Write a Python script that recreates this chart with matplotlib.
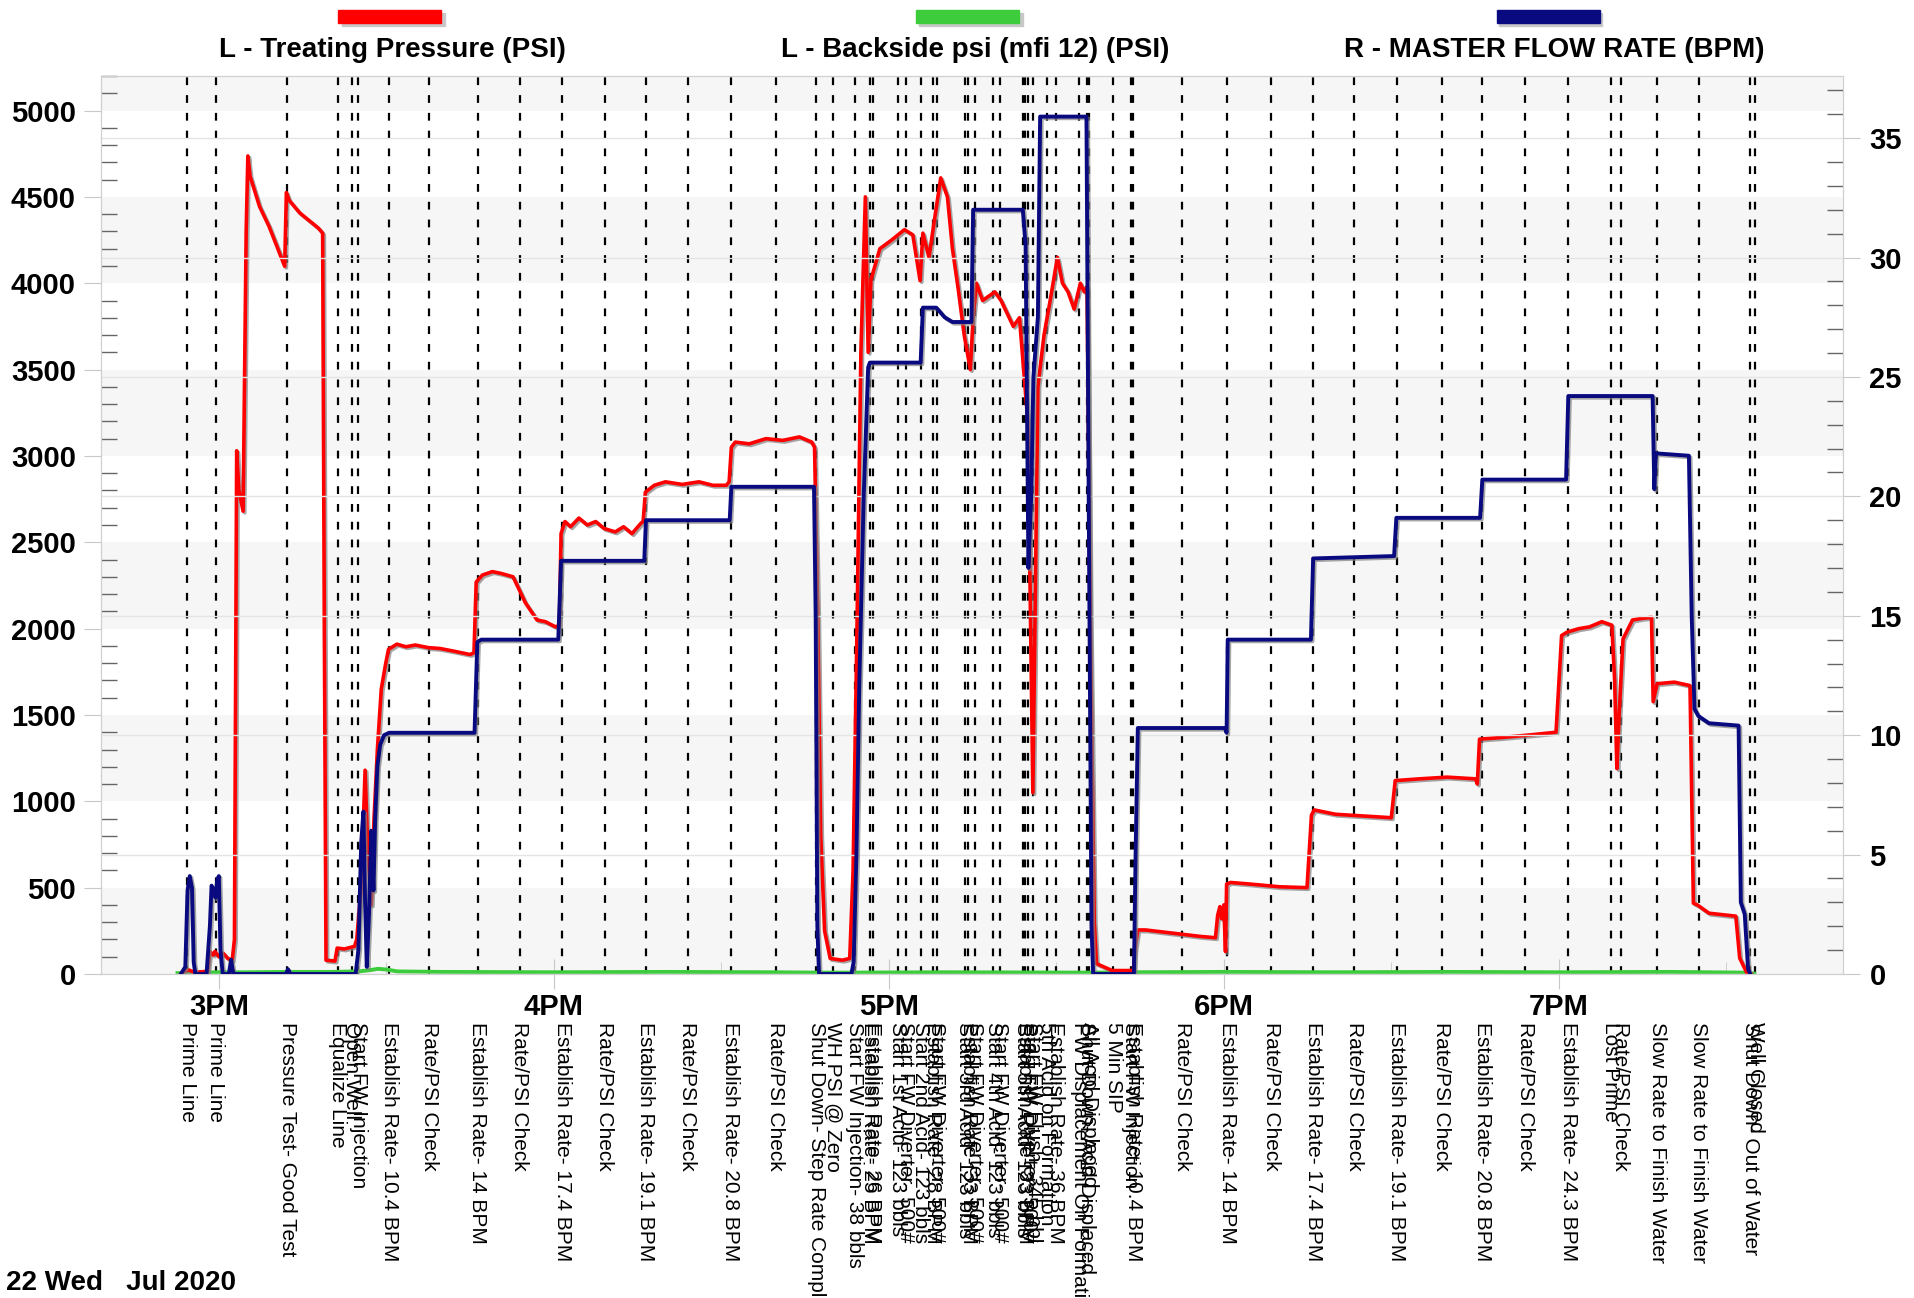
import matplotlib
matplotlib.use("Agg")
import matplotlib.pyplot as plt
import matplotlib.patheffects as pe
import matplotlib.transforms as mtransforms
from matplotlib.patches import Rectangle
from matplotlib.ticker import MultipleLocator

plt.rcParams['font.family'] = ['Liberation Sans', 'DejaVu Sans']

# time axis is minutes after 3PM
hour_ticks = [0, 60, 120, 180, 240]
hour_labels = ['3PM', '4PM', '5PM', '6PM', '7PM']

event_times = [-5.68, -0.54, 12.23, 21.26, 23.77, 24.95, 30.50, 37.67, 46.34, 53.91,
               61.53, 69.14, 76.48, 83.95, 91.71, 99.77, 107.02, 110.03, 113.92, 116.61,
               117.09, 121.57, 123.05, 125.74, 127.84, 128.55, 133.62, 134.21, 135.41, 138.69,
               139.89, 143.96, 144.37, 144.96, 145.85, 148.25, 149.92, 154.09, 155.42, 155.88,
               160.18, 163.35, 163.76, 172.58, 180.64, 188.54, 195.99, 203.37, 210.93, 219.01,
               226.30, 234.02, 241.65, 249.30, 251.06, 257.65, 265.10, 274.32, 275.20]
event_labels = [
    "Prime Line", "Prime Line", "Pressure Test- Good Test", "Equalize Line", "Open Well",
    "Start FW Injection", "Establish Rate- 10.4 BPM", "Rate/PSI Check", "Establish Rate- 14 BPM",
    "Rate/PSI Check", "Establish Rate- 17.4 BPM", "Rate/PSI Check", "Establish Rate- 19.1 BPM",
    "Rate/PSI Check", "Establish Rate- 20.8 BPM", "Rate/PSI Check", "Shut Down- Step Rate Complete",
    "WH PSI @ Zero", "Start FW Injection- 38 bbls", "Establish Rate- 25 BPM", "Establish Rate- 26 BPM",
    "Start 1st Acid- 123 bbls", "Start FW Diverter- 500#", "Start 2nd Acid- 123 bbls",
    "Establish Rate- 28 BPM", "Start FW Diverter- 500#", "Start 3rd Acid- 123 bbls",
    "Establish Rate- 33 BPM", "Start FW Diverter- 500#", "Start 4th Acid- 123 bbls",
    "Start FW Diverter- 500#", "Start 5th Acid- 123 bbls", "Establish Rate- 33 BPM",
    "Start FW Diverter- 500#", "Start FW Flush- 345 bbl", "5th Acid on Formation",
    "Establish Rate- 36 BPM", "FW Displacement On Formation", "Shut Down- Acid Displaced",
    "All Acid Displaced", "5 Min SIP", "Start FW Injection", "Establish Rate- 10.4 BPM",
    "Rate/PSI Check", "Establish Rate- 14 BPM", "Rate/PSI Check", "Establish Rate- 17.4 BPM",
    "Rate/PSI Check", "Establish Rate- 19.1 BPM", "Rate/PSI Check", "Establish Rate- 20.8 BPM",
    "Rate/PSI Check", "Establish Rate- 24.3 BPM", "Lost Prime", "Rate/PSI Check",
    "Slow Rate to Finish Water", "Slow Rate to Finish Water", "Shut Down- Out of Water",
    "Well Closed"]

# L - Treating Pressure (PSI)
tp_t = [-6.8, -5.5, -4.4, -2.0, -1.6, -1.0, -0.7, 0.0, 0.8, 1.6, 2.4, 2.8, 3.2, 3.6, 4.35,
        4.9, 5.2, 5.6, 7.3, 9.0, 11.8, 12.1, 12.6, 14.5, 17.8, 18.6, 18.9, 19.2, 20.8, 21.2,
        22.5, 24.3, 24.7, 25.5, 26.2, 26.7, 27.3, 27.8, 28.4, 29.1, 29.9, 30.4, 31.9, 33.5,
        35.2, 37.5, 39.6, 42.0, 45.0, 45.7, 46.1, 47.2, 49.0, 50.5, 52.7, 54.9, 57.0, 58.5,
        60.3, 61.0, 61.3, 62.0, 63.0, 64.5, 66.0, 67.5, 69.0, 71.0, 72.5, 74.0, 75.6, 76.0,
        76.4, 78.0, 80.0, 83.0, 86.0, 88.5, 90.9, 91.4, 91.8, 92.5, 95.0, 98.0, 101.0, 104.0,
        106.2, 106.7, 107.3, 107.8, 108.5, 109.5, 111.7, 113.0, 113.6, 114.3, 115.0, 115.8,
        116.3, 116.8, 118.4, 120.5, 122.8, 124.3, 125.6, 126.1, 127.2, 128.1, 129.3, 130.5,
        131.4, 132.5, 133.5, 134.6, 135.1, 135.7, 136.8, 139.0, 140.1, 142.3, 143.4, 144.9,
        145.8, 146.7, 147.8, 148.9, 150.2, 151.1, 152.1, 153.2, 154.3, 155.0, 155.5, 156.1,
        156.8, 157.2, 160.0, 163.8, 164.1, 164.6, 166.0, 170.0, 175.7, 178.5, 178.9, 179.3,
        179.6, 180.0, 180.3, 180.5, 181.2, 185.0, 190.0, 194.9, 195.7, 196.2, 200.0, 205.0,
        210.0, 210.7, 215.0, 220.0, 225.1, 225.4, 225.8, 230.0, 235.0, 239.5, 240.5, 241.5,
        243.6, 245.5, 247.7, 249.5, 250.0, 250.4, 250.8, 251.5, 253.2, 255.0, 256.6, 256.9,
        257.6, 260.7, 263.5, 264.1, 264.8, 266.9, 271.7, 272.4, 273.7, 274.5]
tp_psi = [0, 25, 10, 15, 130, 110, 130, 100, 120, 90, 80, 200, 3030, 2800, 2680,
          4300, 4737, 4620, 4444, 4329, 4098, 4525, 4480, 4407, 4320, 4290, 2000, 80, 75, 150,
          145, 160, 200, 500, 1180, 700, 400, 900, 1300, 1650, 1800, 1880, 1910, 1895,
          1905, 1890, 1885, 1870, 1850, 1860, 2270, 2310, 2330, 2320, 2300, 2150, 2050, 2040,
          2010, 2020, 2550, 2620, 2590, 2640, 2600, 2620, 2580, 2560, 2590, 2550, 2610, 2620,
          2790, 2830, 2850, 2835, 2850, 2830, 2830, 2850, 3050, 3080, 3070, 3100, 3090, 3110,
          3080, 3050, 2000, 800, 250, 90, 80, 90, 600, 2000, 3600, 4500,
          3600, 4020, 4200, 4250, 4310, 4280, 4015, 4290, 4150, 4350, 4610, 4500,
          4200, 3950, 3700, 3500, 3800, 4000, 3900, 3950, 3900, 3750, 3800, 3200,
          1050, 3400, 3700, 3900, 4150, 4000, 3950, 3850, 4000, 3950, 3980, 2000,
          300, 60, 20, 20, 150, 255, 255, 240, 218, 210, 340, 390,
          320, 400, 130, 520, 530, 520, 505, 500, 920, 950, 925, 915,
          905, 1120, 1130, 1140, 1130, 1100, 1360, 1370, 1385, 1400, 1960, 1980,
          2000, 2010, 2040, 2020, 1700, 1190, 1500, 1940, 2050, 2060, 2065, 1577,
          1681, 1690, 1670, 410, 400, 352, 335, 92, 5, 0]

# L - Backside psi (mfi 12) (PSI)
bs_t = [-7.4, -4, 0, 5, 12, 20, 25, 27, 28.5, 30, 32, 40, 60, 80, 100, 107, 113, 130,
        156, 164, 180, 200, 220, 240, 260, 273, 275]
bs_psi = [5, 8, 10, 10, 12, 12, 15, 22, 30, 26, 15, 12, 10, 12, 10, 8, 8, 10,
          8, 10, 12, 10, 12, 10, 12, 8, 3]

# R - MASTER FLOW RATE (BPM)
rate_t = [-6.8, -6.0, -5.6, -5.2, -4.8, -4.5, -4.2, -2.2, -1.6, -1.3, -0.9, -0.6, -0.3, 0.0,
          0.3, 0.7, 1.8, 2.2, 2.6, 12.0, 12.4, 12.8, 24.5, 25.0, 25.5, 25.9, 26.2, 26.5, 26.9,
          27.3, 27.7, 28.0, 28.4, 28.9, 29.6, 30.5, 38.0, 45.8, 46.3, 47.0, 60.8, 61.3, 76.2,
          76.5, 91.5, 91.8, 106.6, 106.9, 107.2, 107.5, 113.3, 113.7, 114.2, 114.7, 115.5,
          116.3, 116.6, 125.7, 126.1, 128.5, 130.0, 131.4, 134.8, 135.1, 144.0, 144.5, 145.0,
          145.5, 145.9, 146.7, 147.1, 155.4, 155.8, 156.3, 156.6, 163.9, 164.2, 164.6, 180.2,
          180.5, 180.7, 195.6, 196.0, 210.5, 210.9, 225.9, 226.3, 241.3, 241.7, 256.8, 257.1,
          257.4, 263.3, 263.8, 264.3, 265.0, 266.9, 272.2, 272.6, 273.3, 273.9, 274.3]
rate_bpm = [0, 0.3, 3.5, 4.1, 3.6, 0.5, 0, 0, 2.0, 3.7, 3.5, 3.2, 3.9, 4.1,
            1.0, 0, 0, 0.6, 0, 0, 0.2, 0, 0, 1.0, 5.5, 6.8, 3.0, 0.3, 2.5,
            6.0, 3.5, 6.5, 8.7, 9.6, 10.0, 10.1, 10.1, 10.1, 13.9, 14.0, 14.0, 17.3, 17.3,
            19.0, 19.0, 20.4, 20.4, 15, 2, 0, 0, 0.5, 5, 12, 20,
            25.4, 25.6, 25.6, 27.9, 27.9, 27.5, 27.3, 27.3, 32.0, 32.0, 30.5, 17.0,
            20, 25, 27.5, 35.9, 35.9, 20, 2, 0, 0, 5, 10.3, 10.3,
            10.1, 14.0, 14.0, 17.4, 17.5, 19.1, 19.1, 20.7, 20.7, 24.2, 24.2, 20.3,
            21.8, 21.7, 15, 11.1, 10.8, 10.5, 10.4, 3.0, 2.5, 0.2, 0]

W, H = 1915, 1298
fig = plt.figure(figsize=(W / 100, H / 100), dpi=100)
ax = fig.add_axes([101 / W, 1 - 974 / H, (1843 - 101) / W, (974 - 76) / H])
ax2 = ax.twinx()

ax.set_xlim(-21.1, 290.9)
ax.set_ylim(0, 5200)
ax2.set_ylim(0, 37.6)

# alternating bands
for lo in range(0, 5200, 1000):
    ax.axhspan(lo, lo + 500, color='#f6f6f6', lw=0, zorder=0)

for t in event_times:
    ax.axvline(t, color='black', lw=1.6, ls=(0, (3.5, 4.5)), zorder=2)

shadow = [pe.SimpleLineShadow(offset=(1.2, -1.2), shadow_color='#808080', alpha=0.7), pe.Normal()]
ax.plot(bs_t, bs_psi, color='#3ccc3c', lw=2.8, zorder=3)
ax.plot(tp_t, tp_psi, color='#ff0000', lw=2.6, zorder=4, path_effects=shadow)
ax2.plot(rate_t, rate_bpm, color='#0a0a80', lw=2.8, zorder=4, path_effects=shadow)

ax2.grid(True, axis='y', color='#e4e4e4', lw=1)
ax2.set_axisbelow(True)

tick_grey = '#c8c8c8'
ax.set_xticks(hour_ticks)
ax.set_xticklabels(hour_labels, fontsize=21, fontweight='bold')
ax.xaxis.set_minor_locator(MultipleLocator(30))
ax.tick_params(axis='x', which='major', direction='inout', length=22, color=tick_grey, pad=3)
ax.tick_params(axis='x', which='minor', direction='in', length=9, color=tick_grey)

ax.set_yticks(range(0, 5001, 500))
ax.yaxis.set_minor_locator(MultipleLocator(100))
ax.tick_params(axis='y', which='major', direction='out', length=12, color=tick_grey,
               labelsize=21, pad=6)
ax.tick_params(axis='y', which='minor', direction='in', length=11.5, color='#666666', width=1)

ax2.set_yticks(range(0, 36, 5))
ax2.yaxis.set_minor_locator(MultipleLocator(1))
ax2.tick_params(axis='y', which='major', direction='out', length=12, color=tick_grey,
                labelsize=21, pad=7)
ax2.tick_params(axis='y', which='minor', direction='in', length=11.5, color='#666666', width=1)

for lab in ax.get_yticklabels() + ax2.get_yticklabels():
    lab.set_fontweight('bold')

for a in (ax, ax2):
    for sp in a.spines.values():
        sp.set_color('#d0d0d0')

# event labels under the axis
trans = mtransforms.blended_transform_factory(ax.transData, fig.transFigure)
for t, lab in zip(event_times, event_labels):
    ax.text(t, 1 - 1022 / H, lab, rotation=270, ha='center', va='top', fontsize=15,
            transform=trans, clip_on=False)

# legend strip on top
legend_items = [
    ('L - Treating Pressure (PSI)', '#ff0000', 390, 392),
    ('L - Backside psi (mfi 12) (PSI)', '#3ccc3c', 968, 975),
    ('R - MASTER FLOW RATE (BPM)', '#0a0a80', 1548, 1554),
]
bw, bh = 103, 13
for name, col, cx, tx in legend_items:
    fig.patches.append(Rectangle(((cx - bw / 2 + 3) / W, 1 - (23 + 3) / H), bw / W, bh / H,
                                 transform=fig.transFigure, color='#c8c8c8', zorder=1))
    fig.patches.append(Rectangle(((cx - bw / 2) / W, 1 - 23 / H), bw / W, bh / H,
                                 transform=fig.transFigure, color=col, zorder=2))
    fig.text(tx / W, 1 - 50 / H, name, ha='center', va='center', fontsize=20, fontweight='bold')

fig.text(6 / W, 1 - 1283 / H, '22 Wed   Jul 2020', ha='left', va='center', fontsize=20,
         fontweight='bold')

fig.savefig('out.png', dpi=100)
